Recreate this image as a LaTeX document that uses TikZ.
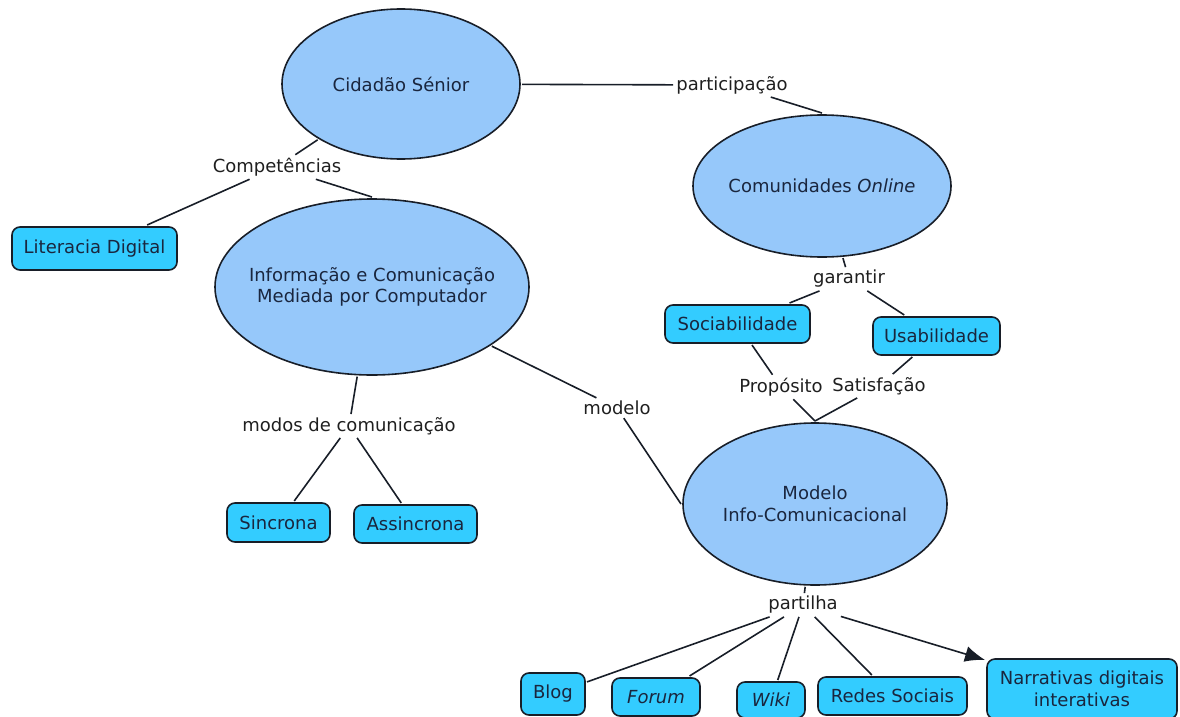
\documentclass[tikz,border=0pt]{standalone}
\usepackage{fontspec}
\setmainfont{DejaVu Sans}
\usepackage{xcolor}
\usepackage{tikz}
\usetikzlibrary{arrows.meta,shapes.geometric}
\definecolor{conceptfill}{RGB}{150,200,250}
\definecolor{itemfill}{RGB}{51,204,255}
\definecolor{edgecol}{RGB}{24,30,40}
\definecolor{nodetext}{RGB}{26,38,62}
\tikzset{
  concept/.style={ellipse, draw=edgecol, line width=1.6pt, fill=conceptfill, text=nodetext, align=center, inner sep=-30pt, outer sep=2pt},
  item/.style={draw=edgecol, rounded corners=8pt, line width=1.6pt, fill=itemfill, text=nodetext, align=center, inner sep=0pt, outer sep=2pt},
  linkname/.style={text=black!88, inner sep=3pt},
  link/.style={draw=edgecol, line width=1.6pt},
  arrow/.style={link, -{Latex[length=20pt, width=16pt]}}
}

\begin{document}
\begin{tikzpicture}[x=1pt, y=-1pt, font=\fontsize{18}{21.5}\selectfont]
  \useasboundingbox (0,0) rectangle (1180,717);

  % concepts
  \node[concept, minimum width=238pt, minimum height=150pt] (cidadao) at (401,84) {Cidadão Sénior};
  \node[concept, minimum width=258pt, minimum height=142pt] (comunidades) at (822,186) {Comunidades \textit{Online}};
  \node[concept, minimum width=314pt, minimum height=176pt] (info) at (372,287) {Informação e Comunicação\\Mediada por Computador};
  \node[concept, minimum width=264pt, minimum height=162pt] (modelo) at (815,504) {Modelo\\Info-Comunicacional};

  \node[item, minimum width=165pt, minimum height=43pt] (literacia) at (94.5,248.5) {Literacia Digital};
  \node[item, minimum width=145pt, minimum height=38pt] (sociab) at (737.5,324) {Sociabilidade};
  \node[item, minimum width=127pt, minimum height=38pt] (usab) at (936.5,336) {Usabilidade};
  \node[item, minimum width=103pt, minimum height=39pt] (sincrona) at (278.5,522.5) {Sincrona};
  \node[item, minimum width=123pt, minimum height=38pt] (assincrona) at (415.5,524) {Assincrona};
  \node[item, minimum width=64pt, minimum height=42pt] (blog) at (553,694) {Blog};
  \node[item, minimum width=88pt, minimum height=38pt] (forum) at (656,697) {\textit{Forum}};
  \node[item, minimum width=68pt, minimum height=36pt] (wiki) at (771,700) {\textit{Wiki}};
  \node[item, minimum width=149pt, minimum height=38pt] (redes) at (892.5,696) {Redes Sociais};
  \node[item, minimum width=190pt, minimum height=60pt] (narrativas) at (1082,689) {Narrativas digitais\\interativas};

  % linking phrases
  \node[linkname] (lcompet) at (277,167) {Competências};
  \node[linkname] (lpartic) at (732,85) {participação};
  \node[linkname] (lgarantir) at (849,279) {garantir};
  \node[linkname] (lproposito) at (781,387) {Propósito};
  \node[linkname] (lsatisf) at (879,386) {Satisfação};
  \node[linkname] (lmodelo) at (617,408) {modelo};
  \node[linkname] (lmodos) at (349,426) {modos de comunicação};
  \node[linkname] (lpartilha) at (803,605) {partilha};

  \draw[link] (cidadao) -- (lcompet);
  \draw[link] (lcompet) -- (literacia);
  \draw[link] (lcompet) -- (info.north);
  \draw[link] (cidadao) -- (lpartic);
  \draw[link] (lpartic) -- (comunidades.north);
  \draw[link] (comunidades) -- (lgarantir);
  \draw[link] (lgarantir) -- (sociab);
  \draw[link] (lgarantir) -- (usab);
  \draw[link] (sociab) -- (lproposito);
  \draw[link] (lproposito) -- (modelo.north);
  \draw[link] (usab) -- (lsatisf);
  \draw[link] (lsatisf) -- (modelo.north);
  \draw[link] (info) -- (lmodelo);
  \draw[link] (lmodelo) -- (modelo.west);
  \draw[link] (info) -- (lmodos);
  \draw[link] (lmodos) -- (sincrona);
  \draw[link] (lmodos) -- (assincrona);
  \draw[link] (modelo) -- (lpartilha);
  \draw[link] (lpartilha) -- (blog);
  \draw[link] (lpartilha) -- (forum);
  \draw[link] (lpartilha) -- (wiki);
  \draw[link] (lpartilha) -- (redes);
  \draw[arrow] (lpartilha) -- (narrativas);
\end{tikzpicture}
\end{document}
